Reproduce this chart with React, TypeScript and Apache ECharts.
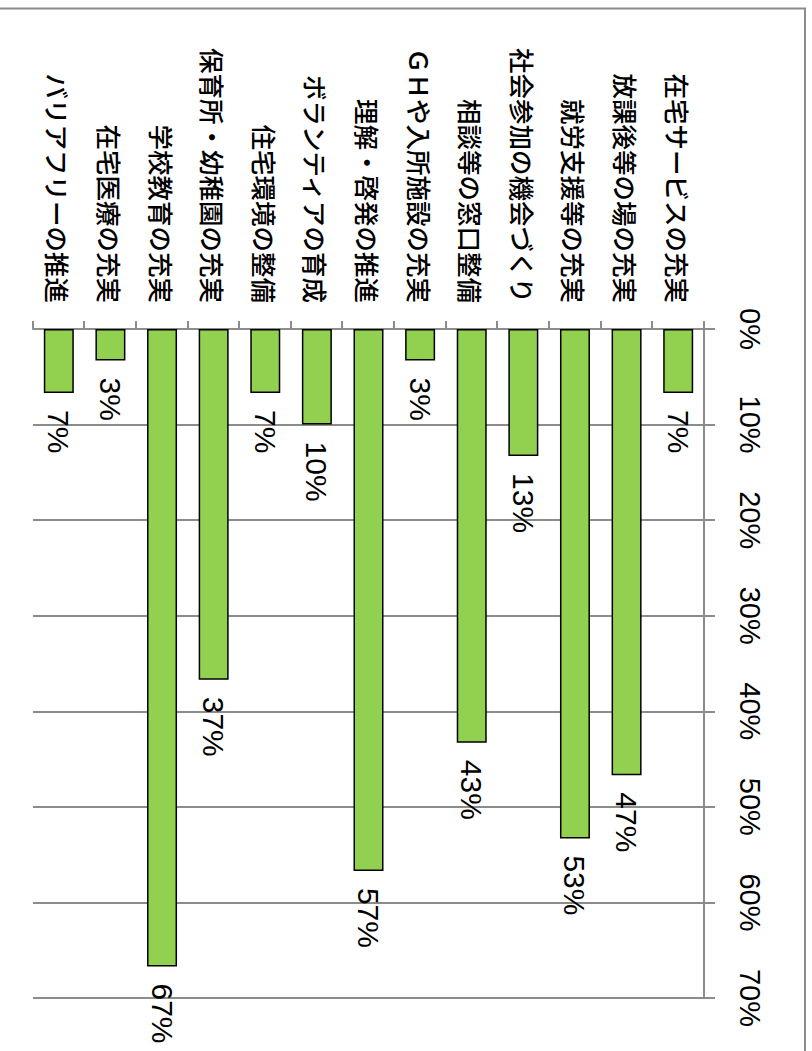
import React, { useEffect, useRef } from "react";
import * as echarts from "echarts";

const categories = [
  "在宅サービスの充実",
  "放課後等の場の充実",
  "就労支援等の充実",
  "社会参加の機会づくり",
  "相談等の窓口整備",
  "ＧＨや入所施設の充実",
  "理解・啓発の推進",
  "ボランティアの育成",
  "住宅環境の整備",
  "保育所・幼稚園の充実",
  "学校教育の充実",
  "在宅医療の充実",
  "バリアフリーの推進",
];
const values = [6.7, 46.7, 53.3, 13.3, 43.3, 3.3, 56.7, 10, 6.7, 36.7, 66.7, 3.3, 6.7];
const axisMin = 0;
const axisMax = 70;
const axisStep = 10;

const GRAY = "#8c8c8c";
const W = 1051;
const H = 812;

export default function App() {
  const ref = useRef<HTMLDivElement>(null);
  useEffect(() => {
    if (!ref.current) return;
    const chart = echarts.init(ref.current, null, { renderer: "svg" });
    chart.setOption({
      animation: false,
      backgroundColor: "#ffffff",
      graphic: [
        {
          type: "rect",
          shape: { x: 8.5, y: 7, width: 1200, height: 1000 },
          style: { fill: "none", stroke: GRAY, lineWidth: 2 },
          silent: true,
        },
      ],
      grid: { left: 329, right: W - 998, top: 108, bottom: H - 779, containLabel: false },
      xAxis: {
        type: "value",
        position: "top",
        min: axisMin,
        max: axisMax,
        interval: axisStep,
        axisLine: { show: true, lineStyle: { color: GRAY, width: 2 } },
        axisTick: { show: true, length: 11, lineStyle: { color: GRAY, width: 2 } },
        splitLine: { show: true, lineStyle: { color: GRAY, width: 2 } },
        axisLabel: {
          formatter: "{value}%",
          margin: 31,
          fontSize: 29,
          color: "#000",
          fontFamily: "Liberation Sans, Arial, sans-serif",
        },
      },
      yAxis: {
        type: "category",
        data: categories,
        inverse: true,
        axisLine: { show: true, lineStyle: { color: GRAY, width: 2 } },
        axisTick: { show: true, length: 8, lineStyle: { color: GRAY, width: 2 } },
        splitLine: { show: false },
        axisLabel: {
          margin: 26,
          fontSize: 25.5,
          fontWeight: 500,
          color: "#000",
          fontFamily: "Noto Sans CJK JP, sans-serif",
        },
      },
      series: [
        {
          type: "bar",
          data: values,
          barWidth: 30,
          itemStyle: { color: "#92D050", borderColor: "#000", borderWidth: 1.5 },
          label: {
            show: true,
            position: "right",
            distance: 17,
            formatter: (p: any) => Math.round(p.value) + "%",
            fontSize: 30,
            color: "#000",
            fontFamily: "Liberation Sans, Arial, sans-serif",
          },
        },
      ],
    });
    return () => chart.dispose();
  }, []);

  return (
    <div
      style={{
        position: "fixed",
        left: 0,
        top: 0,
        width: 812,
        height: 1051,
        overflow: "hidden",
        background: "#fff",
      }}
    >
      <div
        ref={ref}
        style={{
          position: "absolute",
          left: 0,
          top: 0,
          width: W,
          height: H,
          transformOrigin: "0 0",
          transform: "translateX(812px) rotate(90deg)",
        }}
      />
    </div>
  );
}
